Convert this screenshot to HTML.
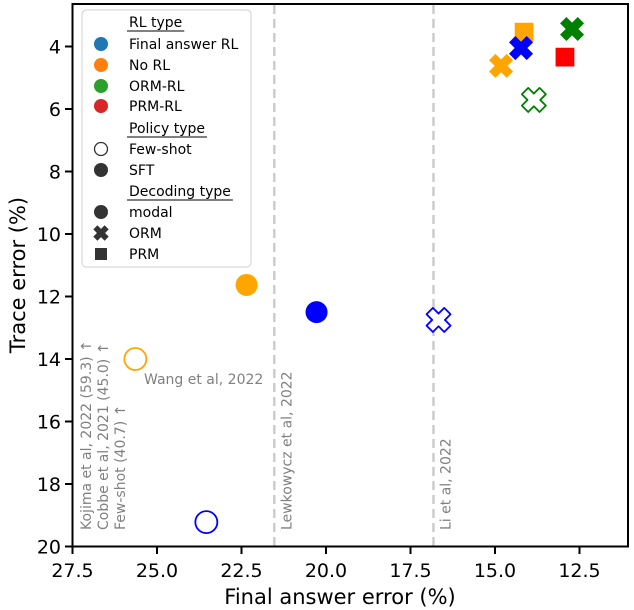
<!DOCTYPE html>
<html><head><meta charset="utf-8"><style>
body{margin:0;background:#fff}
svg{display:block;font-family:"DejaVu Sans","Liberation Sans",sans-serif}
</style></head><body>
<svg id="chart" width="634" height="610" xmlns="http://www.w3.org/2000/svg">
<g id="grid"></g>
<g id="ann"></g>
<g id="marks"></g>
<rect x="72.5" y="4" width="555.5" height="542.5" fill="none" stroke="#000" stroke-width="2"/>
<g id="axes"></g>
<text x="340" y="604" text-anchor="middle" font-size="21">Final answer error (%)</text>
<text transform="translate(25,275) rotate(-90)" text-anchor="middle" font-size="21">Trace error (%)</text>
<g id="legend"></g>
</svg>
<script>
const xTicks=[27.5,25.0,22.5,20.0,17.5,15.0,12.5];
const yTicks=[4,6,8,10,12,14,16,18,20];
const ptName=["orange-sft-modal","blue-sft-modal","blue-fewshot-orm","orange-fewshot-modal","blue-fewshot-modal","orange-sft-prm","green-sft-orm","blue-sft-orm","red-sft-prm","orange-sft-orm","green-fewshot-orm"];
const ptX=[22.35,20.28,16.67,25.64,23.54,14.14,12.72,14.23,12.93,14.82,13.85];
const ptY=[11.63,12.50,12.75,14.0,19.22,3.54,3.44,4.05,4.34,4.62,5.71];
const ptColor=["#FFA500","#0000FF","#0000FF","#FFA500","#0000FF","#FFA500","#008000","#0000FF","#FF0000","#FFA500","#008000"];
const ptShape=["circle","circle","x","circle","circle","square","x","x","square","x","x"];
const ptFilled=[1,1,0,0,0,1,1,1,1,1,0];
const refLines=[21.53,16.82];
const refLabels=["Lewkowycz et al, 2022","Li et al, 2022"];
const sx=v=>72.5+(27.5-v)*33.8;
const sy=v=>46.5+(v-4)*31.25;
const NS="http://www.w3.org/2000/svg";
function mk(t,a,p,txt){const e=document.createElementNS(NS,t);for(const k in a)e.setAttribute(k,a[k]);if(txt!==undefined)e.textContent=txt;p.appendChild(e);return e;}
const axes=document.getElementById('axes');
xTicks.forEach(v=>{const x=sx(v);
 const l=mk('line',{x1:x,x2:x,y1:546.5,y2:554,stroke:'#000','stroke-width':2},axes);
 
 
 const t=mk('text',{x:x,y:577,'text-anchor':'middle','font-size':19},axes,v.toFixed(1));
 
 });
yTicks.forEach(v=>{const y=sy(v);
 const l=mk('line',{x1:65,x2:72.5,y1:y,y2:y,stroke:'#000','stroke-width':2},axes);
 
 
 const t=mk('text',{x:61,y:y+7,'text-anchor':'end','font-size':19},axes,String(v));
 
 });
const grid=document.getElementById('grid');
refLines.forEach((v,i)=>{const x=sx(v);
 const l=mk('line',{x1:x,x2:x,y1:5,y2:546,stroke:'#cccccc','stroke-width':2.5,'stroke-dasharray':'9,5'},grid);
 
 
 const t=mk('text',{transform:`translate(${x+17},530) rotate(-90)`,'font-size':14,fill:'#808080'},grid,refLabels[i]);
 
 });
const ann=document.getElementById('ann');
[["Kojima et al, 2022 (59.3) ↑",91],["Cobbe et al, 2021 (45.0) ↑",108],["Few-shot (40.7) ↑",125]].forEach(a=>{
 const t=mk('text',{transform:`translate(${a[1]},530) rotate(-90)`,'font-size':14,fill:'#808080'},ann,a[0]);
 
 });
const w=mk('text',{x:144,y:384,'font-size':14,fill:'#808080'},ann,"Wang et al, 2022");


function xPath(cx,cy,s){
 // plus shape rotated 45deg: arm length s, half-width a
 const a=s*0.36;
 const q=[[-a,-s],[a,-s],[a,-a],[s,-a],[s,a],[a,a],[a,s],[-a,s],[-a,a],[-s,a],[-s,-a],[-a,-a]];
 const c=Math.SQRT1_2;
 return 'M'+q.map(p=>(cx+(p[0]-p[1])*c).toFixed(2)+','+(cy+(p[0]+p[1])*c).toFixed(2)).join('L')+'Z';}
function drawMarker(p,shape,cx,cy,col,filled,s){
 const fill=filled?col:'#fff';
 if(shape==='circle')return mk('circle',{cx,cy,r:s,fill,stroke:col,'stroke-width':filled?0:1.8},p);
 if(shape==='square')return mk('rect',{x:cx-s*0.75,y:cy-s*0.75,width:s*1.5,height:s*1.5,fill,stroke:col,'stroke-width':0},p);
 return mk('path',{d:xPath(cx,cy,s),fill,stroke:col,'stroke-width':filled?0:1.8,'stroke-linejoin':'round'},p);}
const marks=document.getElementById('marks');
ptX.forEach((v,i)=>{const m=drawMarker(marks,ptShape[i],sx(v),sy(ptY[i]),ptColor[i],ptFilled[i],ptShape[i]==='circle'?11:12.5);
 
 });
const lg=document.getElementById('legend');
const bx=mk('rect',{x:82,y:10,width:169,height:257,rx:4,fill:'#fff','fill-opacity':0.85,stroke:'#d0d0d0'},lg);


const rows=[["h","RL type",22],["c","Final answer RL",44,"#1f77b4"],["c","No RL",65,"#ff7f0e"],["c","ORM-RL",86,"#2ca02c"],["c","PRM-RL",106,"#d62728"],
["h","Policy type",128],["o","Few-shot",149],["c","SFT",170,"#333"],["h","Decoding type",191],["c","modal",212,"#333"],["x","ORM",233],["s","PRM",254]];
rows.forEach(r=>{const y=r[2];
 if(r[0]==='h'){const t=mk('text',{x:129,y:y+5,'font-size':14},lg,r[1]);
  
  
  const len=t.getComputedTextLength();
  mk('line',{x1:127,x2:131+len,y1:y+9,y2:y+9,stroke:'#000','stroke-width':1},lg);return;}
 let m;
 if(r[0]==='c')m=mk('circle',{cx:101,cy:y,r:7,fill:r[3]},lg);
 if(r[0]==='o')m=mk('circle',{cx:101,cy:y,r:6.5,fill:'#fff',stroke:'#333','stroke-width':1.3},lg);
 if(r[0]==='x')m=mk('path',{d:xPath(101,y,8),fill:'#333'},lg);
 if(r[0]==='s')m=mk('rect',{x:95,y:y-6,width:12,height:12,fill:'#333'},lg);
 
 
 const t=mk('text',{x:129,y:y+5,'font-size':14},lg,r[1]);
 
 });
</script>
</body></html>
